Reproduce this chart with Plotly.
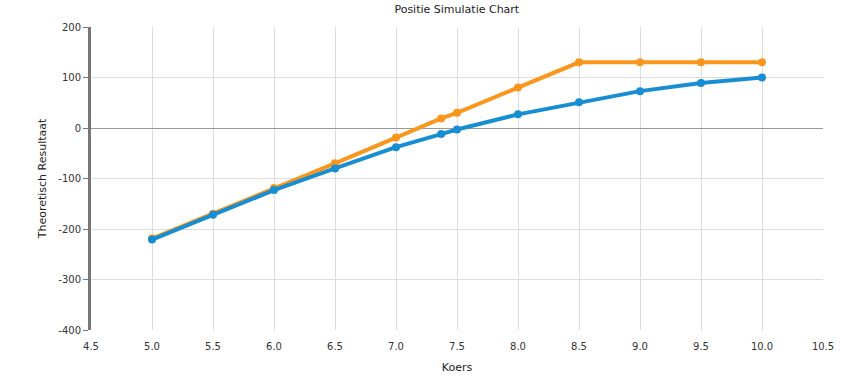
import plotly.graph_objects as go

koers = [5.0, 5.5, 6.0, 6.5, 7.0, 7.37, 7.5, 8.0, 8.5, 9.0, 9.5, 10.0]
serie_oranje = [-219, -170, -119, -70, -19, 19, 30, 80, 130, 130, 130, 130]
serie_blauw = [-221, -172, -123, -80, -38, -12, -3, 27, 51, 73, 89, 100]

x_ticks = [4.5, 5.0, 5.5, 6.0, 6.5, 7.0, 7.5, 8.0, 8.5, 9.0, 9.5, 10.0, 10.5]
y_ticks = [-400, -300, -200, -100, 0, 100, 200]

fig = go.Figure()
fig.add_trace(go.Scatter(x=koers, y=serie_oranje, mode="lines+markers",
                         line=dict(color="#F8961E", width=4),
                         marker=dict(color="#F8961E", size=8)))
fig.add_trace(go.Scatter(x=koers, y=serie_blauw, mode="lines+markers",
                         line=dict(color="#188ED2", width=4),
                         marker=dict(color="#188ED2", size=8)))

fig.update_layout(
    width=845, height=377,
    margin=dict(l=91, r=22, t=27, b=47),
    paper_bgcolor="white", plot_bgcolor="white",
    showlegend=False,
    font=dict(family="DejaVu Sans", size=10, color="#333"),
    title=dict(text="Positie Simulatie Chart", x=0.5406, xanchor="center",
               y=1 - 9 / 377, yanchor="middle", font=dict(size=11, color="#222")),
)
fig.update_xaxes(range=[4.5, 10.5], tickvals=x_ticks,
                 ticktext=[f"{v:.1f}" for v in x_ticks],
                 showgrid=True, gridcolor="#DDDDDD", gridwidth=1,
                 zeroline=False, showline=False, automargin=False,
                 ticks="outside", ticklen=7, tickcolor="rgba(0,0,0,0)",
                 title=dict(text="Koers", font=dict(size=11, color="#222"), standoff=12),
                 tickfont=dict(size=10, color="#333"))
fig.update_yaxes(range=[-400, 200], tickvals=y_ticks,
                 ticktext=[str(v) for v in y_ticks],
                 showgrid=True, gridcolor="#DDDDDD", gridwidth=1,
                 zeroline=True, zerolinecolor="#999999", zerolinewidth=1,
                 showline=True, linecolor="#777777", linewidth=3, automargin=False,
                 ticks="outside", ticklen=5, tickcolor="#777777", tickwidth=1,
                 title=dict(text="Theoretisch Resultaat", font=dict(size=11, color="#222"), standoff=10),
                 tickfont=dict(size=10, color="#333"))

fig.write_html("out.html", config={"displayModeBar": False},
               post_script="document.body.style.margin='0';document.body.style.overflow='hidden';")
